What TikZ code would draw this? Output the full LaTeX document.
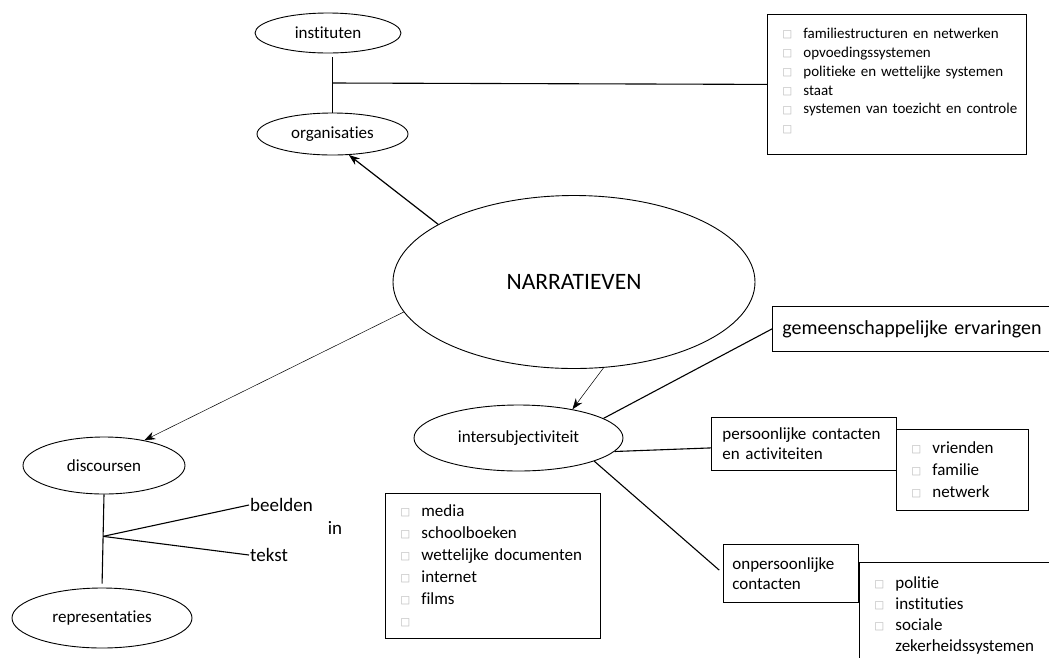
\documentclass[tikz,border=0pt]{standalone}
\usepackage{fontspec}
\setmainfont{Carlito}[Ligatures=NoCommon]
\newfontfamily\glyphfont{DejaVu Sans}
\usepackage{xcolor}
\usetikzlibrary{shapes,arrows.meta,positioning,calc}
\newcommand{\chk}{\makebox[21pt][l]{\glyphfont\fontsize{10.5}{10}\selectfont\raisebox{0.5pt}{\textcolor{gray!55}{□}}}}
\newcommand{\li}[1]{\mbox{\chk#1}}

\begin{document}
\begin{tikzpicture}[
    x=1pt, y=-1pt,
    oval/.style={ellipse, draw, line width=0.9pt, inner sep=0pt, font=\fontsize{17}{20}\selectfont},
    box/.style={rectangle, draw, line width=0.8pt, anchor=north west, align=left, inner xsep=10pt, inner ysep=0pt, font=\fontsize{17}{20}\selectfont},
    listbox/.style={box, inner xsep=15pt, font=\fontsize{17}{22}\selectfont},
    word/.style={inner sep=1pt, font=\fontsize{19}{22}\selectfont},
    link/.style={line width=1.1pt},
    arrow/.style={-{Stealth[length=11pt,width=8pt]}, line width=1.2pt},
    thinarrow/.style={-{Stealth[length=11pt,width=8pt]}, line width=0.5pt}
]
\useasboundingbox (0,0) rectangle (1049,657);

% Centre
\node[oval, minimum width=362, minimum height=173, font=\fontsize{23.5}{28}\selectfont] (narr) at (574,282) {NARRATIEVEN};

% Institutions
\node[oval, minimum width=146, minimum height=40] (inst) at (328,33) {instituten};
\node[oval, minimum width=151, minimum height=42] (org) at (332.5,134) {organisaties};
\node[listbox, minimum width=259, minimum height=140, text width=229, font=\fontsize{15}{18.9}\selectfont] (flist) at (767,14)
  {\li{familiestructuren en netwerken}\\ \li{opvoedingssystemen}\\ \li{politieke en wettelijke systemen}\\
   \li{staat}\\ \li{systemen van toezicht en controle}\\ \li{}\rule[-8pt]{0pt}{8pt}};

% Discourses
\node[oval, minimum width=162, minimum height=57] (disc) at (104,465.5) {discoursen};
\node[oval, minimum width=180, minimum height=60] (repr) at (102,618) {representaties};
\node[word, anchor=west] (beelden) at (249,505) {beelden};
\node[word, anchor=west] (tekst) at (249,555) {tekst};
\node[word] (in) at (335,528) {in};
\node[listbox, minimum width=215, minimum height=145, text width=185] (mlist) at (385,493)
  {\li{media}\\ \li{schoolboeken}\\ \li{wettelijke documenten}\\ \li{internet}\\ \li{films}\\ \li{}};

% Intersubjectivity
\node[oval, minimum width=209, minimum height=66] (inter) at (518.5,438) {intersubjectiviteit};
\node[box, minimum width=290, minimum height=45, text width=270, font=\fontsize{20}{24}\selectfont] (gemeen) at (772,306) {gemeenschappelijke ervaringen};
\node[box, minimum width=185, minimum height=53, text width=163, inner xsep=11pt] (pers) at (711,417) {persoonlijke contacten\\en activiteiten};
\node[listbox, minimum width=132, minimum height=81, text width=102] (vlist) at (896,429)
  {\li{vrienden}\\ \li{familie}\\ \li{netwerk}};
\node[box, minimum width=135, minimum height=58, text width=117, inner xsep=9pt] (onpers) at (723,544) {onpersoonlijke\\contacten};
\node[listbox, minimum width=202, minimum height=106, text width=172, font=\fontsize{17}{21}\selectfont] (plist) at (859,562)
  {\li{politie}\\ \li{instituties}\\ \li{sociale}\\ \hspace*{21pt}zekerheidssystemen};

% Lines
\coordinate (branch) at ($(inst.south -| org.north)!0.5!(org.north)$);
\coordinate (split) at ($(disc.south)!0.45!(repr.north)$);
\draw[link, shorten <=4pt] (inst.south -| org.north) -- (org.north);
\draw[link] (branch) -- (flist.west);
\draw[arrow] (narr.157) -- (org.-52);
\draw[thinarrow] (narr.190) -- (disc.32);
\draw[link, shorten >=4pt] (disc.south) -- (repr.north);
\draw[link] (split) -- (beelden.west);
\draw[link] (split) -- (tekst.west);
\draw[thinarrow] (narr.-71) -- (inter.28);
\draw[link] (inter.13) -- (gemeen.west);
\draw[link] (inter.-8) -- ([yshift=-4pt]pers.west);
\draw[link, shorten >=5pt] (inter.-17) -- (onpers.west);

\end{tikzpicture}
\end{document}
